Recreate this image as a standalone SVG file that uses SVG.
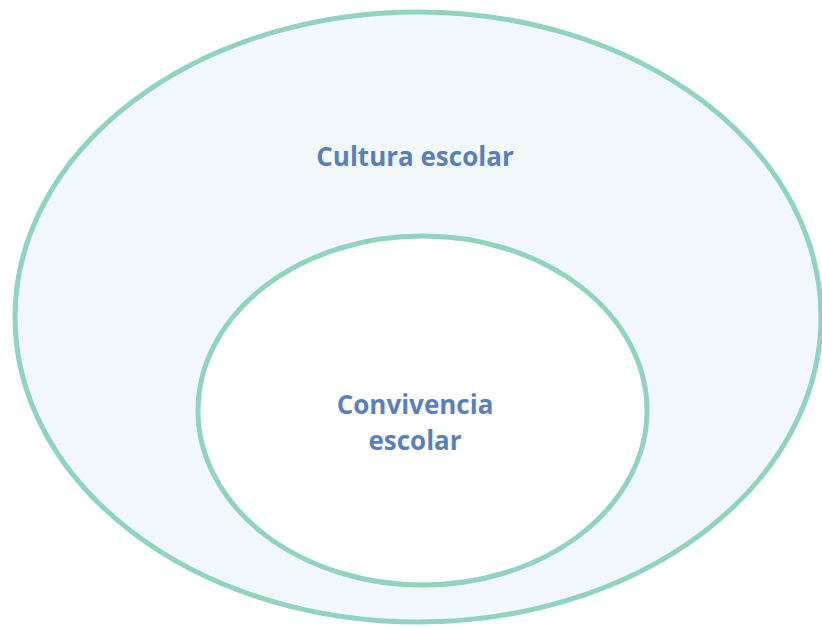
<svg xmlns="http://www.w3.org/2000/svg" width="822" height="627" viewBox="0 0 822 627">
<style>
.ring{stroke:#8fd3c0;stroke-width:5}
.lbl{font-family:"Open Sans","Liberation Sans",sans-serif;font-weight:bold;font-size:26px;fill:#5b7fbc;text-anchor:middle}
</style>
<rect width="822" height="627" fill="#ffffff"/>
<g id="cultura">
<ellipse class="ring" cx="418" cy="317" rx="403" ry="305" fill="#f2f8f7"/>
<text class="lbl" x="415" y="166">Cultura escolar</text>
</g>
<g id="convivencia">
<ellipse class="ring" cx="422.5" cy="410.5" rx="224.5" ry="174.5" fill="#ffffff"/>
<text class="lbl" x="415" y="414">Convivencia</text>
<text class="lbl" x="415" y="450">escolar</text>
</g>
<g id="connectors"/>
</svg>
